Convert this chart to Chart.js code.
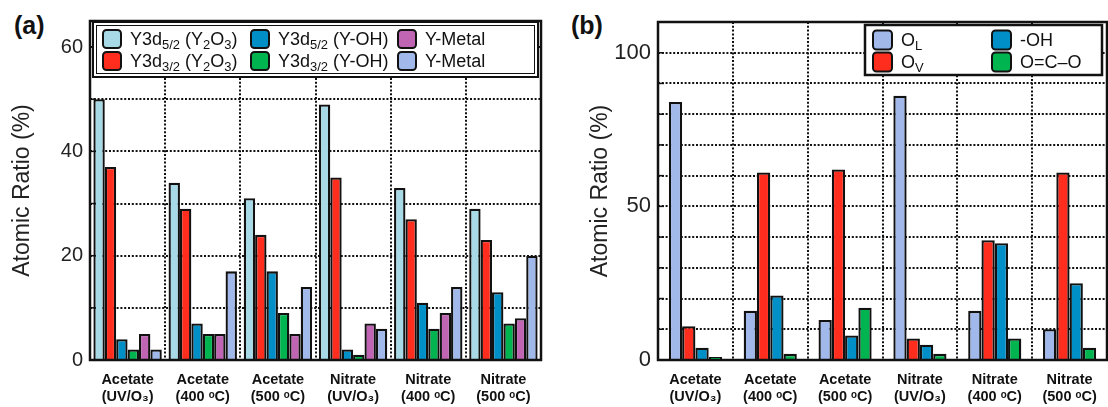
<!DOCTYPE html>
<html>
<head>
<meta charset="utf-8">
<script src="https://cdn.jsdelivr.net/npm/chart.js@4.4.1/dist/chart.umd.min.js"></script>
<style>
	body { margin: 0; background: #fff; width: 1108px; height: 407px; overflow: hidden; position: relative; font-family: "Liberation Sans", Arial, sans-serif; }
	.panel { position: absolute; top: 0; height: 407px; }
	.tag { position: absolute; font-weight: bold; font-size: 25px; color: #111; line-height: 30px; }
</style>
</head>
<body>
<div class="tag" style="left:14px;top:10px">(a)</div>
<div class="tag" style="left:571px;top:10px">(b)</div>
<div class="panel" style="left:0;width:560px"><canvas id="chartA"></canvas></div>
<div class="panel" style="left:580px;width:528px"><canvas id="chartB"></canvas></div>
<script>
// categories (same for both panels)
const categories = [
	['Acetate', '(UV/O₃)'],
	['Acetate', '(400 ᵒC)'],
	['Acetate', '(500 ᵒC)'],
	['Nitrate', '(UV/O₃)'],
	['Nitrate', '(400 ᵒC)'],
	['Nitrate', '(500 ᵒC)'],
];

// panel (a) - Y 3d components
const namesA = ['Y3d_{5/2} (Y_{2}O_{3})', 'Y3d_{3/2} (Y_{2}O_{3})', 'Y3d_{5/2} (Y-OH)', 'Y3d_{3/2} (Y-OH)', 'Y-Metal', 'Y-Metal'];
const y52Y2O3 = [50, 34, 31, 49, 33, 29];
const y32Y2O3 = [37, 29, 24, 35, 27, 23];
const y52YOH = [4, 7, 17, 2, 11, 13];
const y32YOH = [2, 5, 9, 1, 6, 7];
const yMetal1 = [5, 5, 5, 7, 9, 8];
const yMetal2 = [2, 17, 14, 6, 14, 20];
const colorsA = ['#A8D9E7', '#FF2D1E', '#008FC7', '#00B450', '#C064B4', '#A0B9EA'];

// panel (b) - O 1s components
const namesB = ['O_{L}', 'O_{V}', '-OH', 'O=C–O'];
const oL = [84, 16, 13, 86, 16, 10];
const oV = [11, 61, 62, 7, 39, 61];
const oH = [4, 21, 8, 5, 38, 25];
const oCO = [1, 2, 17, 2, 7, 4];
const colorsB = ['#A0B9EA', '#FF2D1E', '#008FC7', '#00B450'];

const ticksA = [0, 20, 40, 60];
const ticksB = [0, 50, 100];

Chart.defaults.font.family = '"Liberation Sans", Arial, sans-serif';
Chart.defaults.color = '#111';

// text with _{...} subscripts
function drawRich(ctx, x, y, text, size) {
	const parts = text.split(/(_\{[^}]*\})/).filter(p => p);
	let cx = x;
	parts.forEach(p => {
		const sub = p.startsWith('_{');
		const t = sub ? p.slice(2, -1) : p;
		ctx.font = (sub ? size * 0.72 : size) + 'px "Liberation Sans", Arial, sans-serif';
		ctx.fillText(t, cx, sub ? y + size * 0.32 : y);
		cx += ctx.measureText(t).width;
	});
}

function roundRect(ctx, x, y, w, h, r) {
	ctx.beginPath();
	ctx.moveTo(x + r, y);
	ctx.arcTo(x + w, y, x + w, y + h, r);
	ctx.arcTo(x + w, y + h, x, y + h, r);
	ctx.arcTo(x, y + h, x, y, r);
	ctx.arcTo(x, y, x + w, y, r);
	ctx.closePath();
}

const framePlugin = {
	id: 'frame',
	afterDatasetsDraw(chart) {
		const { ctx, chartArea: a, scales: { y } } = chart;
		ctx.save();
		ctx.strokeStyle = '#111';
		ctx.lineWidth = 1.5;
		y.ticks.forEach(t => {
			const py = y.getPixelForValue(t.value);
			ctx.beginPath();
			ctx.moveTo(a.left, py);
			ctx.lineTo(a.left + 6, py);
			ctx.stroke();
		});
		ctx.lineWidth = 2.5;
		ctx.strokeRect(a.left, a.top, a.right - a.left, a.bottom - a.top);
		ctx.restore();
	}
};

const boxLegend = {
	id: 'boxLegend',
	afterDraw(chart, args, o) {
		const ctx = chart.ctx;
		ctx.save();
		ctx.fillStyle = '#fff';
		ctx.fillRect(o.x, o.y, o.w, o.h);
		ctx.strokeStyle = '#111';
		ctx.lineWidth = o.double ? 2 : 2.5;
		ctx.strokeRect(o.x, o.y, o.w, o.h);
		if (o.double) {
			ctx.lineWidth = 1;
			ctx.strokeRect(o.x + 3.5, o.y + 3.5, o.w - 7, o.h - 7);
		}
		ctx.textBaseline = 'middle';
		chart.data.datasets.forEach((ds, i) => {
			const col = Math.floor(i / 2), row = i % 2;
			const sx = o.cols[col], cy = o.rows[row];
			roundRect(ctx, sx, cy - o.sw / 2, o.sw, o.sw, 3.5);
			ctx.fillStyle = ds.backgroundColor;
			ctx.fill();
			ctx.lineWidth = 2;
			ctx.strokeStyle = '#111';
			ctx.stroke();
			ctx.fillStyle = '#111';
			drawRich(ctx, sx + o.sw + 9, cy + 1, ds.label, o.size);
		});
		ctx.restore();
	}
};

function makeDatasets(names, series, colors) {
	return series.map((d, i) => ({
		label: names[i],
		data: d,
		backgroundColor: colors[i],
		borderColor: '#111',
		borderWidth: 2.3,
	}));
}

function makeOptions(cfg) {
	return {
		responsive: true,
		maintainAspectRatio: false,
		animation: false,
		layout: { padding: { top: cfg.top, right: cfg.right, left: 0, bottom: 0 } },
		datasets: { bar: { barPercentage: 1, categoryPercentage: cfg.catPct } },
		plugins: {
			legend: { display: false },
			tooltip: { enabled: false },
			boxLegend: cfg.legend,
		},
		scales: {
			x: {
				grid: { color: '#111', lineWidth: 2, drawTicks: false, offset: true },
				border: { display: false, dash: [2, 1.8] },
				ticks: { font: { size: 14.5, weight: 'bold', lineHeight: 1.2 }, color: '#111', padding: 11, maxRotation: 0, autoSkip: false },
				afterFit: s => { s.height = 47; },
			},
			y: {
				min: 0,
				max: cfg.max,
				grid: { color: '#111', lineWidth: 2, drawTicks: false },
				border: { display: false, dash: [2, 1.8] },
				ticks: {
					stepSize: 10,
					font: { size: cfg.tickSize },
					color: '#222',
					padding: 7,
					callback: v => cfg.labels.includes(v) ? v : '',
				},
				title: { display: true, text: 'Atomic Ratio (%)', font: { size: 23 }, color: '#222', padding: { top: cfg.titlePad, bottom: 0 } },
				afterFit: s => { s.width = cfg.yWidth; },
			},
		},
	};
}

new Chart(document.getElementById('chartA'), {
	type: 'bar',
	data: {
		labels: categories,
		datasets: makeDatasets(namesA, [y52Y2O3, y32Y2O3, y52YOH, y32YOH, yMetal1, yMetal2], colorsA),
	},
	options: makeOptions({
		top: 21, right: 19, max: 65, catPct: 0.91, tickSize: 20, labels: ticksA, titlePad: 9, yWidth: 90,
		legend: { x: 93, y: 22, w: 445, h: 55, double: true, cols: [103, 251, 398], rows: [39, 61], sw: 18, size: 18 },
	}),
	plugins: [framePlugin, boxLegend],
});

new Chart(document.getElementById('chartB'), {
	type: 'bar',
	data: {
		labels: categories,
		datasets: makeDatasets(namesB, [oL, oV, oH, oCO], colorsB),
	},
	options: makeOptions({
		top: 22, right: 1, max: 110, catPct: 0.71, tickSize: 22, labels: ticksB, titlePad: 7, yWidth: 78,
		legend: { x: 285, y: 25, w: 237, h: 50, double: false, cols: [293, 412], rows: [40, 62], sw: 19, size: 18 },
	}),
	plugins: [framePlugin, boxLegend],
});
</script>
</body>
</html>
